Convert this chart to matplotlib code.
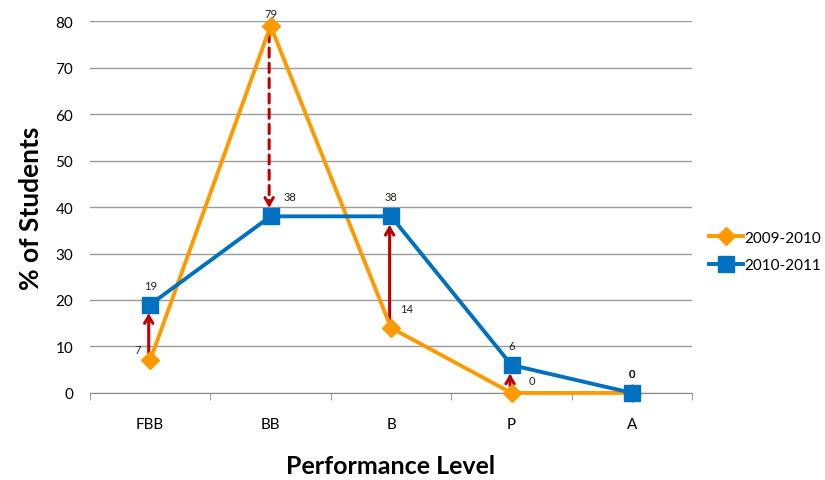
import matplotlib
matplotlib.use("Agg")
import matplotlib.pyplot as plt
import numpy as np

categories = ["FBB", "BB", "B", "P", "A"]
s2009 = [7, 79, 14, 0, 0]
s2010 = [19, 38, 38, 6, 0]
series_names = ["2009-2010", "2010-2011"]

plt.rcParams["font.family"] = ["Lato", "DejaVu Sans"]

ORANGE = "#FF9900"
BLUE = "#0070C0"
RED = "#C00000"

fig = plt.figure(figsize=(8.25, 4.81), dpi=100)
ax = fig.add_axes([0.109, 0.181, 0.730, 0.773])

x = np.arange(len(categories))
ax.plot(x, s2009, color=ORANGE, lw=2.8, marker="D", ms=9, mec=ORANGE, mfc=ORANGE,
        label=series_names[0], zorder=3, clip_on=False)
ax.plot(x, s2010, color=BLUE, lw=2.8, marker="s", ms=11, mec=BLUE, mfc=BLUE,
        label=series_names[1], zorder=4, clip_on=False)

ax.set_xlim(-0.5, len(categories) - 0.5)
ax.set_ylim(0, 80)
ax.set_yticks(range(0, 81, 10))
ax.set_xticks(x)
ax.set_xticklabels(categories)
ax.set_xticks(np.arange(-0.5, len(categories), 1), minor=True)
ax.tick_params(axis="x", which="major", length=0, pad=17, labelsize=11)
ax.tick_params(axis="x", which="minor", length=5, color="#888888", direction="out")
ax.tick_params(axis="y", length=0, pad=12, labelsize=11)
ax.yaxis.grid(True, color="#9a9a9a", lw=1)
ax.set_axisbelow(True)
for side in ["top", "right", "left"]:
    ax.spines[side].set_visible(False)
ax.spines["bottom"].set_color("#888888")

ax.set_ylabel("% of Students", fontsize=19, fontweight="bold", labelpad=9)
ax.set_xlabel("Performance Level", fontsize=18, fontweight="bold", labelpad=17)

# value labels
lab_kw = dict(fontsize=8, color="#222222", zorder=5)
ax.annotate(str(s2009[0]), (x[0], s2009[0]), xytext=(-9, 8), textcoords="offset points",
            ha="center", va="center", **lab_kw)
ax.annotate(str(s2009[1]), (x[1], s2009[1]), xytext=(0, 9), textcoords="offset points",
            ha="center", va="center", **lab_kw)
ax.annotate(str(s2009[2]), (x[2], s2009[2]), xytext=(11, 14), textcoords="offset points",
            ha="center", va="center", **lab_kw)
ax.annotate(str(s2009[3]), (x[3], s2009[3]), xytext=(15, 9), textcoords="offset points",
            ha="center", va="center", **lab_kw)
ax.annotate(str(s2009[4]), (x[4], s2009[4]), xytext=(0, 14), textcoords="offset points",
            ha="center", va="center", **lab_kw)
ax.annotate(str(s2010[0]), (x[0], s2010[0]), xytext=(0, 14), textcoords="offset points",
            ha="center", va="center", **lab_kw)
ax.annotate(str(s2010[1]), (x[1], s2010[1]), xytext=(14, 14), textcoords="offset points",
            ha="center", va="center", **lab_kw)
ax.annotate(str(s2010[2]), (x[2], s2010[2]), xytext=(0, 14), textcoords="offset points",
            ha="center", va="center", **lab_kw)
ax.annotate(str(s2010[3]), (x[3], s2010[3]), xytext=(0, 14), textcoords="offset points",
            ha="center", va="center", **lab_kw)
ax.annotate(str(s2010[4]), (x[4], s2010[4]), xytext=(0, 14), textcoords="offset points",
            ha="center", va="center", fontweight="bold", fontsize=8, color="#222222", zorder=5)

# change arrows between the two years: dashed shaft for a drop, solid for a rise,
# with a solid open head in both cases
for i in range(4):
    start, end = s2009[i], s2010[i]
    xi = x[i] - 0.012
    style = (0, (3, 2)) if end < start else "-"
    ax.annotate("", xy=(xi, end), xytext=(xi, start),
                arrowprops=dict(arrowstyle="-", color=RED, lw=2.2, linestyle=style,
                                shrinkA=5, shrinkB=8),
                zorder=2)
    direction = 1 if end > start else -1
    tip = end - direction * 1.9
    ax.annotate("", xy=(xi, tip), xytext=(xi, tip - direction * 1.5),
                arrowprops=dict(arrowstyle="->,head_length=0.5,head_width=0.3",
                                color=RED, lw=2.2, shrinkA=0, shrinkB=0),
                zorder=2)

leg = fig.legend(loc="center left", bbox_to_anchor=(0.843, 0.475), frameon=False,
                 fontsize=11, handlelength=2.2, handletextpad=0.1, labelspacing=0.9)

fig.savefig("out.png", dpi=100)
